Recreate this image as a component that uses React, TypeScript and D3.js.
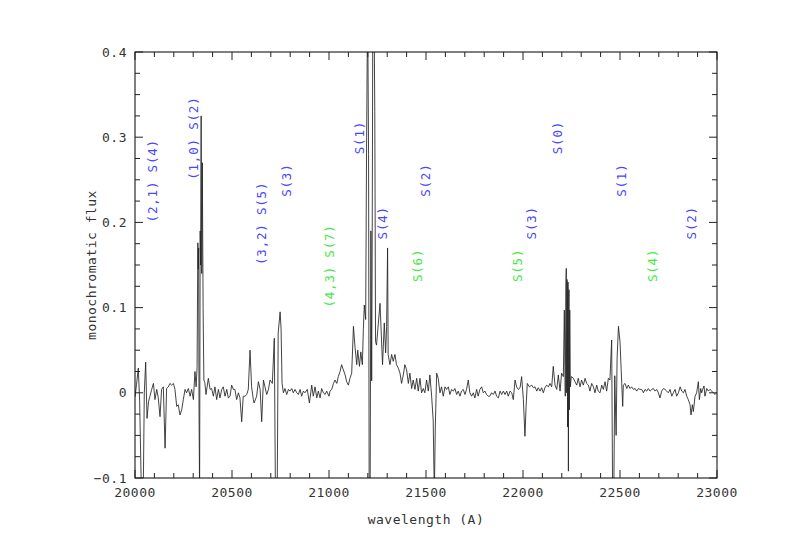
import React from "react";
import * as d3 from "d3";

// wavelength (A), monochromatic flux
const spectrum: [number, number][] = [
  [20000, -0.005], [20008, 0.01], [20017, 0.029], [20024, -0.01], [20034, -0.13], [20042, -0.13],
  [20048, 0.0], [20055, 0.036], [20062, -0.03], [20070, -0.01], [20077, -0.004], [20086, 0.004],
  [20095, 0.011], [20103, -0.008], [20112, 0.004], [20120, -0.006], [20129, -0.028], [20137, 0.004],
  [20146, 0.007], [20155, -0.065], [20163, 0.005], [20172, 0.007], [20180, 0.011], [20189, 0.009],
  [20198, 0.011], [20206, 0.004], [20215, -0.016], [20223, -0.014], [20232, -0.026], [20241, -0.02],
  [20249, -0.008], [20258, 0.004], [20266, 0.0], [20275, 0.005], [20284, -0.004], [20292, 0.004],
  [20301, -0.008], [20309, 0.025], [20315, 0.007], [20320, 0.03], [20324, 0.176], [20326, 0.145],
  [20328, 0.17], [20330, -0.02], [20333, -0.12], [20336, 0.19], [20338, 0.15], [20341, 0.325],
  [20344, 0.14], [20347, 0.27], [20351, 0.1], [20355, 0.015], [20360, 0.012], [20366, -0.002],
  [20378, 0.017], [20387, 0.004], [20395, 0.005], [20404, -0.004], [20412, 0.007], [20421, -0.008],
  [20430, 0.004], [20438, -0.006], [20447, 0.004], [20455, 0.007], [20464, -0.004], [20473, 0.004],
  [20481, -0.006], [20490, -0.004], [20498, 0.009], [20507, 0.004], [20515, 0.004], [20524, -0.008],
  [20533, 0.0], [20541, -0.006], [20550, -0.034], [20558, -0.004], [20567, -0.004], [20576, -0.002],
  [20584, 0.004], [20593, 0.05], [20601, 0.007], [20610, -0.008], [20614, -0.012], [20627, -0.004],
  [20636, 0.013], [20645, 0.004], [20653, -0.034], [20662, 0.015], [20670, 0.007], [20679, -0.002],
  [20688, 0.004], [20696, 0.015], [20708, 0.011], [20718, 0.064], [20724, -0.12], [20733, -0.12],
  [20738, 0.07], [20748, 0.095], [20753, 0.075], [20758, 0.011], [20765, 0.0], [20773, 0.005],
  [20782, -0.002], [20791, 0.004], [20799, 0.002], [20808, 0.005], [20816, 0.0], [20825, 0.004],
  [20834, 0.0], [20842, -0.002], [20851, 0.004], [20859, -0.004], [20868, 0.002], [20876, 0.0],
  [20888, 0.004], [20899, -0.012], [20911, 0.009], [20919, -0.004], [20928, 0.007], [20937, -0.006],
  [20945, 0.002], [20954, -0.006], [20962, 0.005], [20971, 0.0], [20980, -0.002], [20988, 0.002],
  [21000, -0.004], [21005, 0.002], [21014, 0.004], [21023, 0.011], [21031, 0.015], [21040, 0.011],
  [21048, 0.019], [21057, 0.025], [21065, 0.033], [21074, 0.027], [21083, 0.021], [21091, 0.013],
  [21100, 0.009], [21108, 0.017], [21117, 0.023], [21126, 0.078], [21134, 0.054], [21143, 0.033],
  [21148, 0.05], [21157, 0.031], [21164, 0.048], [21172, 0.033], [21177, 0.074], [21182, 0.103],
  [21189, 0.086], [21194, 0.3], [21199, 0.46], [21204, 0.28], [21207, -0.12], [21212, -0.12],
  [21216, 0.19], [21220, 0.014], [21223, 0.2], [21226, 0.46], [21232, 0.46], [21236, 0.33],
  [21240, 0.06], [21245, 0.056], [21263, 0.105], [21276, 0.033], [21285, 0.082], [21292, 0.047],
  [21297, 0.078], [21302, 0.17], [21305, 0.045], [21314, 0.033], [21323, 0.045], [21331, 0.037],
  [21340, 0.045], [21348, 0.033], [21357, 0.029], [21366, 0.023], [21374, 0.011], [21383, 0.021],
  [21391, 0.033], [21400, 0.027], [21409, 0.011], [21417, 0.023], [21426, 0.005], [21434, 0.015],
  [21443, 0.004], [21452, 0.017], [21460, 0.002], [21469, 0.017], [21477, 0.0], [21486, 0.005],
  [21494, 0.0], [21503, 0.015], [21512, 0.002], [21520, 0.021], [21529, -0.004], [21537, -0.032],
  [21543, -0.12], [21548, -0.04], [21555, 0.023], [21563, 0.017], [21572, 0.0], [21580, 0.007],
  [21589, -0.004], [21598, 0.007], [21606, 0.004], [21615, 0.007], [21623, -0.002], [21632, 0.004],
  [21641, 0.002], [21649, 0.005], [21658, -0.002], [21666, 0.002], [21675, -0.004], [21683, 0.002],
  [21692, 0.004], [21701, -0.002], [21709, 0.004], [21718, 0.015], [21726, 0.0], [21735, -0.004],
  [21744, 0.0], [21752, -0.006], [21761, 0.004], [21769, -0.004], [21778, 0.004], [21787, 0.007],
  [21795, 0.0], [21804, 0.002], [21812, -0.002], [21821, -0.004], [21829, -0.004], [21838, 0.0],
  [21847, -0.002], [21856, 0.002], [21864, -0.004], [21873, -0.006], [21882, 0.002], [21890, -0.002],
  [21899, 0.002], [21907, -0.002], [21916, 0.002], [21924, -0.004], [21933, 0.002], [21942, 0.0],
  [21950, -0.008], [21959, 0.015], [21967, 0.007], [21976, 0.004], [21985, 0.006], [21993, 0.019],
  [22002, -0.008], [22010, -0.051], [22016, -0.016], [22022, 0.011], [22033, 0.007], [22045, 0.009],
  [22053, 0.006], [22062, 0.007], [22071, 0.002], [22079, 0.006], [22088, 0.002], [22096, 0.006],
  [22105, 0.0], [22113, 0.006], [22122, 0.009], [22131, 0.007], [22139, 0.011], [22148, 0.007],
  [22156, 0.031], [22165, 0.009], [22174, 0.004], [22182, 0.021], [22191, 0.002], [22199, 0.023],
  [22208, 0.019], [22213, 0.097], [22216, 0.03], [22218, -0.004], [22221, 0.12], [22223, 0.146],
  [22225, 0.0], [22227, 0.133], [22229, 0.11], [22230, -0.04], [22232, 0.13], [22234, -0.092],
  [22236, 0.1], [22237, 0.121], [22239, -0.02], [22241, 0.097], [22244, 0.007], [22249, 0.019],
  [22260, 0.017], [22268, 0.013], [22277, 0.009], [22285, 0.017], [22294, 0.007], [22302, 0.015],
  [22311, 0.009], [22320, 0.017], [22328, 0.011], [22337, 0.009], [22345, 0.002], [22354, 0.011],
  [22363, 0.007], [22371, 0.0], [22380, 0.009], [22388, 0.002], [22397, 0.0], [22406, 0.009],
  [22414, 0.004], [22423, 0.013], [22431, 0.002], [22440, 0.017], [22448, 0.015], [22457, 0.062],
  [22462, -0.12], [22468, -0.12], [22473, 0.02], [22480, -0.05], [22485, 0.04], [22492, 0.078],
  [22500, 0.06], [22509, 0.011], [22514, -0.016], [22517, 0.009], [22526, 0.011], [22535, 0.005],
  [22543, 0.009], [22552, 0.005], [22560, 0.007], [22569, 0.004], [22578, 0.005], [22586, 0.002],
  [22595, 0.005], [22603, 0.004], [22612, 0.004], [22621, 0.0], [22629, 0.004], [22638, 0.002],
  [22646, 0.005], [22655, 0.002], [22664, 0.004], [22672, 0.005], [22681, 0.002], [22689, 0.004],
  [22698, 0.0], [22706, -0.006], [22715, 0.002], [22724, 0.005], [22732, 0.004], [22741, 0.002],
  [22749, 0.0], [22758, 0.004], [22767, -0.004], [22775, 0.0], [22784, 0.004], [22792, -0.004],
  [22801, 0.0], [22810, 0.007], [22818, 0.002], [22827, 0.0], [22835, 0.004], [22844, -0.004],
  [22852, -0.008], [22861, -0.014], [22866, -0.026], [22873, -0.014], [22878, -0.022], [22887, -0.004],
  [22895, 0.0], [22904, 0.013], [22909, -0.008], [22916, 0.005], [22921, 0.0], [22926, 0.004],
  [22933, 0.008], [22938, -0.004], [22947, 0.005], [22956, 0.002], [22964, 0.004], [22973, 0.002],
  [22981, 0.0], [22990, -0.002], [22998, 0.0],
];

// H2 line identifications: text, wavelength, flux at which the label starts
const blueLabels: [string, number, number][] = [
  ["(2,1) S(4)", 20093, 0.2],
  ["(1,0) S(2)", 20304, 0.25],
  ["(3,2) S(5)", 20655, 0.15],
  ["S(3)", 20784, 0.23],
  ["S(1)", 21160, 0.28],
  ["S(4)", 21278, 0.18],
  ["S(2)", 21500, 0.23],
  ["S(3)", 22046, 0.18],
  ["S(0)", 22180, 0.28],
  ["S(1)", 22510, 0.23],
  ["S(2)", 22871, 0.18],
];
const greenLabels: [string, number, number][] = [
  ["(4,3) S(7)", 21005, 0.1],
  ["S(6)", 21459, 0.13],
  ["S(5)", 21974, 0.13],
  ["S(4)", 22670, 0.13],
];

const xMajor = [20000, 20500, 21000, 21500, 22000, 22500, 23000];
const yMajor = [-0.1, 0, 0.1, 0.2, 0.3, 0.4];

const W = 785;
const H = 555;
const margin = { top: 52, right: 68, bottom: 77, left: 135 };
const font = "'DejaVu Sans Mono', monospace";

export default function App() {
  const x = d3.scaleLinear().domain([20000, 23000]).range([margin.left, W - margin.right]);
  const y = d3.scaleLinear().domain([-0.1, 0.4]).range([H - margin.bottom, margin.top]);
  const [x0, x1] = x.range();
  const [y0, y1] = y.range();

  const line = d3
    .line<[number, number]>()
    .x((d) => x(d[0]))
    .y((d) => y(d[1]));

  const xMinor = d3.range(20000, 23001, 100).filter((v) => v % 500 !== 0);
  const yMinor = d3
    .range(-0.1, 0.4001, 0.025)
    .filter((v) => Math.abs(Math.round(v * 10) - v * 10) > 0.01);

  const fmtY = (v: number) => (Math.abs(v) < 1e-9 ? "0" : d3.format(".1f")(v));

  const label = (d: [string, number, number], color: string, i: number) => (
    <text
      key={color + i}
      transform={`translate(${x(d[1])},${y(d[2])}) rotate(-90)`}
      dy="0.35em"
      fill={color}
      fontSize={12.5}
      letterSpacing={0.8}
      fontFamily={font}
    >
      {d[0]}
    </text>
  );

  return (
    <svg
      width={W}
      height={H}
      style={{ position: "absolute", left: 0, top: 0, background: "#fff" }}
    >
      <defs>
        <clipPath id="plotClip">
          <rect x={x0} y={y1} width={x1 - x0} height={y0 - y1} />
        </clipPath>
      </defs>
      <rect width={W} height={H} fill="#fff" />

      <path
        d={line(spectrum) || ""}
        fill="none"
        stroke="#222"
        strokeWidth={0.85}
        clipPath="url(#plotClip)"
      />

      {blueLabels.map((d, i) => label(d, "#4646ff", i))}
      {greenLabels.map((d, i) => label(d, "#44e844", i))}

      <rect x={x0} y={y1} width={x1 - x0} height={y0 - y1} fill="none" stroke="#000" strokeWidth={1} />

      <g stroke="#222" strokeWidth={1}>
        {xMajor.map((v) => (
          <g key={"xM" + v}>
            <line x1={x(v)} x2={x(v)} y1={y0} y2={y0 - 8} />
            <line x1={x(v)} x2={x(v)} y1={y1} y2={y1 + 8} />
          </g>
        ))}
        {xMinor.map((v) => (
          <g key={"xm" + v}>
            <line x1={x(v)} x2={x(v)} y1={y0} y2={y0 - 5} />
            <line x1={x(v)} x2={x(v)} y1={y1} y2={y1 + 5} />
          </g>
        ))}
        {yMajor.map((v) => (
          <g key={"yM" + v}>
            <line x1={x0} x2={x0 + 8} y1={y(v)} y2={y(v)} />
            <line x1={x1} x2={x1 - 8} y1={y(v)} y2={y(v)} />
          </g>
        ))}
        {yMinor.map((v) => (
          <g key={"ym" + v}>
            <line x1={x0} x2={x0 + 5} y1={y(v)} y2={y(v)} />
            <line x1={x1} x2={x1 - 5} y1={y(v)} y2={y(v)} />
          </g>
        ))}
      </g>

      <g fontFamily={font} fontSize={13} letterSpacing={0.5} fill="#333">
        {xMajor.map((v) => (
          <text key={"xl" + v} x={x(v)} y={y0 + 19} textAnchor="middle">
            {v}
          </text>
        ))}
        {yMajor.map((v) => (
          <text key={"yl" + v} x={x0 - 8} y={y(v)} dy="0.35em" textAnchor="end">
            {fmtY(v)}
          </text>
        ))}
        <text x={(x0 + x1) / 2} y={y0 + 46} textAnchor="middle">
          wavelength (A)
        </text>
        <text
          transform={`translate(${x0 - 44},${(y0 + y1) / 2}) rotate(-90)`}
          textAnchor="middle"
          dy="0.35em"
        >
          monochromatic flux
        </text>
      </g>
    </svg>
  );
}
